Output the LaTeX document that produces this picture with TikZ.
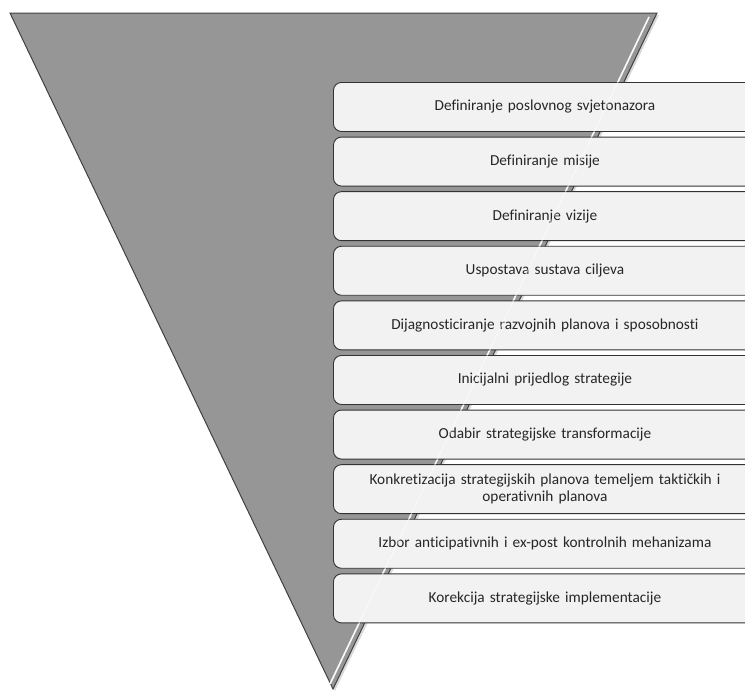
\documentclass[tikz,border=0pt]{standalone}
\usepackage{fontspec}
\setmainfont{Carlito}[Ligatures=NoCommon]
\begin{document}
\begin{tikzpicture}[x=1pt,y=-1pt,
  stagebox/.style={draw=black!80, line width=0.9pt, fill=black!5, rounded corners=8pt,
    minimum width=423pt, minimum height=49pt, anchor=north west, inner sep=0pt,
    text width=410pt, align=center, font=\fontsize{15.3}{17}\selectfont, text=black!85},
  funnel/.style={draw=black!75, line width=1pt, fill=black!41}]
\useasboundingbox (0,0) rectangle (745,691);
\begin{scope}
\clip (0,0) rectangle (745,691);
% shadow
\fill[black!15] (12,15) -- (659,15) -- (335,691) -- cycle;
\path[funnel] (10,13) coordinate (tl) -- (657,13) coordinate (tr) -- (333,689) coordinate (ap) -- cycle;
\draw[white, line width=1.6pt, opacity=0.9] (649,17) -- (330,684);
\foreach \i/\t in {0/{Definiranje poslovnog svjetonazora},
  1/{Definiranje misije},
  2/{Definiranje vizije},
  3/{Uspostava sustava ciljeva},
  4/{Dijagnosticiranje razvojnih planova i sposobnosti},
  5/{Inicijalni prijedlog strategije},
  6/{Odabir strategijske transformacije},
  7/{Konkretizacija strategijskih planova temeljem taktičkih i\\ operativnih planova},
  8/{Izbor anticipativnih i ex-post kontrolnih mehanizama},
  9/{Korekcija strategijske implementacije}}{
  \node[stagebox] (b\i) at (333,{82+54.6*\i}) {\t};
}
\draw[white, line width=1.2pt, opacity=0.5] (649,17) -- (330,684);
\end{scope}
\end{tikzpicture}
\end{document}
